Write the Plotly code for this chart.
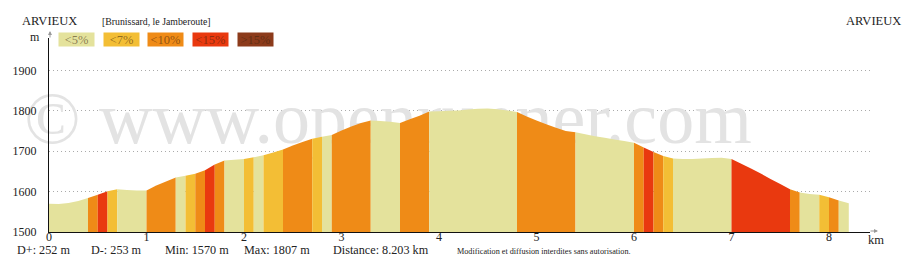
import plotly.graph_objects as go

# ---------------- data ----------------
km = [0.0, 0.1, 0.2, 0.3, 0.4, 0.5, 0.6, 0.7, 0.8, 0.9,
      1.0, 1.1, 1.2, 1.3, 1.4, 1.5, 1.6, 1.7, 1.8, 1.9,
      2.0, 2.1, 2.2, 2.3, 2.4, 2.5, 2.6, 2.7, 2.8, 2.9,
      3.0, 3.1, 3.2, 3.3, 3.4, 3.5, 3.6, 3.7, 3.8, 3.9,
      4.0, 4.1, 4.2, 4.3, 4.4, 4.5, 4.6, 4.7, 4.8, 4.9,
      5.0, 5.1, 5.2, 5.3, 5.4, 5.5, 5.6, 5.7, 5.8, 5.9,
      6.0, 6.1, 6.2, 6.3, 6.4, 6.5, 6.6, 6.7, 6.8, 6.9,
      7.0, 7.1, 7.2, 7.3, 7.4, 7.5, 7.6, 7.7, 7.8, 7.9,
      8.0, 8.1, 8.203]
elevation = [1570, 1569, 1572, 1577, 1584, 1592, 1601, 1606, 1604, 1603,
             1603, 1615, 1625, 1635, 1639, 1644, 1653, 1667, 1677, 1679,
             1681, 1685, 1690, 1697, 1704, 1714, 1723, 1731, 1736, 1740,
             1751, 1761, 1770, 1776, 1775, 1773, 1770, 1779, 1788, 1798,
             1799, 1800, 1801, 1803, 1805, 1806, 1804, 1801, 1797, 1786,
             1776, 1767, 1758, 1750, 1747, 1742, 1737, 1733, 1729, 1725,
             1721, 1709, 1698, 1688, 1682, 1681, 1681, 1682, 1683, 1684,
             1681, 1669, 1657, 1645, 1631, 1619, 1606, 1598, 1594, 1592,
             1586, 1578, 1571]
# slope class of each segment between consecutive points (0:<5%,1:<7%,2:<10%,3:<15%,4:>15%)
segment_class = [0, 0, 0, 0, 2, 3, 1, 0, 0, 0,
                 2, 2, 2, 0, 1, 2, 3, 2, 0, 0,
                 1, 0, 1, 1, 2, 2, 2, 1, 0, 2,
                 2, 2, 2, 0, 0, 0, 2, 2, 2, 0,
                 0, 0, 0, 0, 0, 0, 0, 0, 2, 2,
                 2, 2, 2, 2, 0, 0, 0, 0, 0, 0,
                 2, 3, 2, 1, 0, 0, 0, 0, 0, 0,
                 3, 3, 3, 3, 3, 3, 2, 0, 0, 1,
                 2, 0]
class_labels = ["&lt;5%", "&lt;7%", "&lt;10%", "&lt;15%", "&gt;15%"]
class_colors = ["#E4E29C", "#F3BE35", "#EF8B17", "#E9390F", "#8C3B1B"]

y_ticks = [1500, 1600, 1700, 1800, 1900]
x_ticks = [0, 1, 2, 3, 4, 5, 6, 7, 8]

start_name = "ARVIEUX"
end_name = "ARVIEUX"
via_text = "[Brunissard, le Jamberoute]"
stats = ["D+: 252 m", "D-: 253 m", "Min: 1570 m", "Max: 1807 m", "Distance: 8.203 km"]
notice = "Modification et diffusion interdites sans autorisation."
watermark = "\u00a9 www.openrunner.com"

# ---------------- layout geometry ----------------
W, H = 924, 266
L, R, T, B = 49, 870, 38, 232
PX_PER_KM = 97.5
PX_PER_M = 0.404
x_max = (R - L) / PX_PER_KM
y_max = 1500 + (B - T) / PX_PER_M


def px_x(px):
    return (px - L) / (R - L)


def px_y(py):
    return (B - py) / (B - T)


SERIF = "Liberation Serif, Times New Roman, serif"

fig = go.Figure()

# watermark (drawn first so the profile covers it)
fig.add_trace(go.Scatter(
    x=[(388 - L) / PX_PER_KM], y=[1500 + (B - 124) / PX_PER_M],
    mode="text", text=[watermark], textposition="middle center",
    textfont=dict(family=SERIF, size=74, color="#E3E3E3"),
    cliponaxis=False, hoverinfo="skip", showlegend=False))

# profile: one filled trace per run of equal slope class
i = 0
n = len(segment_class)
while i < n:
    j = i
    while j + 1 < n and segment_class[j + 1] == segment_class[i]:
        j += 1
    fig.add_trace(go.Scatter(
        x=km[i:j + 2], y=elevation[i:j + 2],
        mode="none", fill="tozeroy",
        fillcolor=class_colors[segment_class[i]],
        hoverinfo="skip", showlegend=False))
    i = j + 1

fig.update_layout(
    width=W, height=H,
    margin=dict(l=L, r=W - R, t=T, b=H - B, pad=0),
    paper_bgcolor="white", plot_bgcolor="white",
    font=dict(family=SERIF, size=12, color="#222"),
    showlegend=False,
    xaxis=dict(range=[0, x_max], tickvals=x_ticks, ticktext=[str(v) for v in x_ticks],
               showgrid=False, zeroline=False, showline=True, linecolor="#111",
               linewidth=1, ticks="", ticklabelstandoff=-6,
               tickfont=dict(family=SERIF, size=12, color="#222"),
               fixedrange=True),
    yaxis=dict(range=[1500, y_max], tickvals=y_ticks, ticktext=[str(v) for v in y_ticks],
               showgrid=True, gridcolor="#AAAAAA", gridwidth=1, griddash="1px,3px",
               zeroline=False, showline=True, linecolor="#111", linewidth=1,
               ticks="", ticklabelstandoff=9,
               tickfont=dict(family=SERIF, size=12, color="#222"), fixedrange=True),
)

ann = []
# top labels
ann.append(dict(text=start_name, x=px_x(20), y=px_y(21), xanchor="left", yanchor="middle",
                font=dict(family=SERIF, size=12.5, color="#222")))
ann.append(dict(text=via_text, x=px_x(100), y=px_y(21), xanchor="left", yanchor="middle",
                font=dict(family=SERIF, size=9.8, color="#222")))
ann.append(dict(text=end_name, x=px_x(903), y=px_y(21), xanchor="right", yanchor="middle",
                font=dict(family=SERIF, size=12.5, color="#222")))
# axis unit labels
ann.append(dict(text="m", x=px_x(42), y=px_y(37), xanchor="right", yanchor="middle",
                font=dict(family=SERIF, size=12, color="#222")))
ann.append(dict(text="km", x=px_x(866), y=px_y(240), xanchor="left", yanchor="middle",
                font=dict(family=SERIF, size=12.5, color="#222")))
# axis arrowheads
ann.append(dict(text="", x=px_x(878), y=px_y(231), ax=-9, ay=0, showarrow=True,
                arrowhead=2, arrowsize=0.8, arrowwidth=1, arrowcolor="#999"))
ann.append(dict(text="", x=px_x(50), y=px_y(31), ax=0, ay=8, showarrow=True,
                arrowhead=2, arrowsize=0.8, arrowwidth=1, arrowcolor="#999"))
# legend boxes
box_centers = [76.5, 121, 165.5, 210.5, 255]
for lbl, col, cx in zip(class_labels, class_colors, box_centers):
    ann.append(dict(text=lbl, x=px_x(cx), y=px_y(40), xanchor="center", yanchor="middle",
                    width=35, height=13, bgcolor=col, borderpad=0, align="center",
                    font=dict(family=SERIF, size=12.5, color="rgba(60,35,15,0.55)")))
# bottom stats
stat_x = [15, 89, 163, 242, 331]
for s, sx in zip(stats, stat_x):
    ann.append(dict(text=s, x=px_x(sx), y=px_y(250), xanchor="left", yanchor="middle",
                    font=dict(family=SERIF, size=12.2, color="#222")))
ann.append(dict(text=notice, x=px_x(455), y=px_y(251), xanchor="left", yanchor="middle",
                font=dict(family=SERIF, size=8.2, color="#222")))

for a in ann:
    a.setdefault("showarrow", False)
    a["xref"] = "paper"
    a["yref"] = "paper"
fig.update_layout(annotations=ann)

fig.write_html("out.html", config={"displayModeBar": False})
